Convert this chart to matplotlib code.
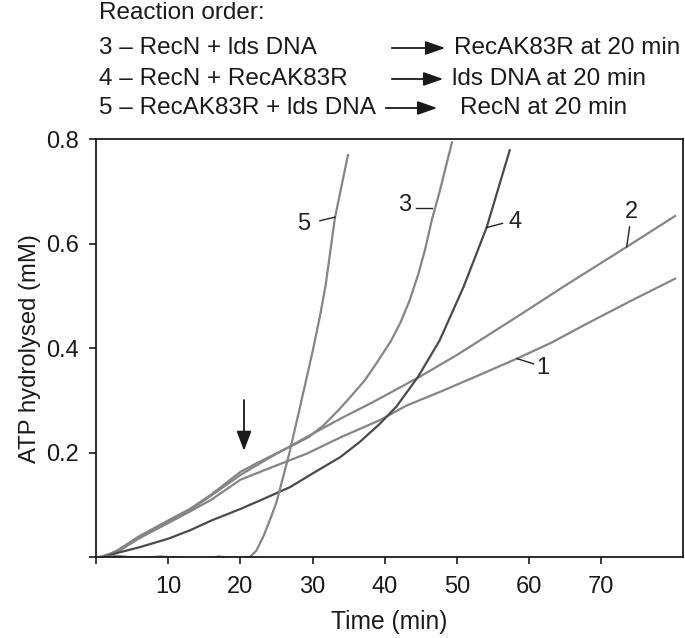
import matplotlib
matplotlib.use('Agg')
import matplotlib.pyplot as plt
from matplotlib.patches import FancyArrowPatch

plt.rcParams['font.family'] = ['Liberation Sans', 'DejaVu Sans']

# values (time in min, ATP hydrolysed in mM)
t1 = [0.5, 3, 6, 10, 13, 16, 20, 24, 29.2, 34, 39.3, 43, 47.6, 53, 58.3, 63, 68, 74, 80.2]
y1 = [0, 0.01, 0.036, 0.065, 0.087, 0.11, 0.148, 0.17, 0.198, 0.23, 0.262, 0.29, 0.316, 0.348, 0.38, 0.41, 0.447, 0.49, 0.533]

t2 = [1, 3, 6, 10, 13, 16, 20, 24, 29.2, 34, 38.4, 44.8, 50, 58.3, 65, 73.5, 80.2]
y2 = [0, 0.012, 0.038, 0.068, 0.09, 0.118, 0.157, 0.19, 0.23, 0.266, 0.297, 0.345, 0.387, 0.46, 0.52, 0.594, 0.653]

t3 = [1, 3, 6, 10, 13, 16, 20, 22.3, 24.5, 27.3, 29.5, 31.5, 33.5, 35.2, 37.2, 38.8, 40.9, 42.2, 43.4, 44.6,
      45.6, 46.5, 47.6, 48.5, 49.3]
y3 = [0, 0.013, 0.04, 0.07, 0.092, 0.12, 0.163, 0.18, 0.195, 0.214, 0.23, 0.252, 0.28, 0.306, 0.338, 0.37,
      0.415, 0.45, 0.49, 0.54, 0.59, 0.645, 0.70, 0.75, 0.794]

t4 = [1, 3, 6.1, 10, 13, 16, 20, 23, 26.9, 30, 33.8, 36.5, 39.3, 41.6, 44.6, 47.6, 50.9, 54.1, 57.3]
y4 = [0, 0.008, 0.019, 0.035, 0.051, 0.07, 0.092, 0.11, 0.134, 0.16, 0.191, 0.22, 0.255, 0.288, 0.345, 0.415, 0.517, 0.631, 0.779]

t5 = [0.5, 3, 6, 9, 12, 15, 17, 19, 21.3, 22.2, 23.2, 24.2, 25, 26.8, 28.3, 30.1, 31.0, 31.8, 32.4, 33.1, 34.0, 34.9]
y5 = [0, 0.002, -0.002, 0.001, -0.002, -0.004, 0.001, -0.002, 0, 0.012, 0.04, 0.075, 0.105, 0.2, 0.29, 0.4,
      0.46, 0.52, 0.58, 0.65, 0.71, 0.77]

curve_names = ['1', '2', '3', '4', '5']
# label text position and the small leader line (start, end) per curve
label_xy = [(61.9, 0.362), (74.2, 0.66), (42.8, 0.674), (58.0, 0.642), (28.7, 0.638)]
leader = [((58.3, 0.38), (60.6, 0.370)), ((73.5, 0.594), (73.9, 0.632)),
          ((46.6, 0.668), (44.3, 0.668)), ((54.1, 0.631), (56.3, 0.639)),
          ((33.1, 0.651), (31.0, 0.644))]

header = ['3 \u2013 RecN + lds DNA', '4 \u2013 RecN + RecAK83R', '5 \u2013 RecAK83R + lds DNA']
added = ['RecAK83R at 20 min', 'lds DNA at 20 min', 'RecN at 20 min']

light = '#858585'
dark = '#4a4a4a'
ink = '#1a1a1a'

fig = plt.figure(figsize=(6.85, 6.38), dpi=100)
ax = fig.add_axes([96/685, 1-557/638, 587/685, (557-139.3)/638])

ax.plot(t1, y1, color=light, lw=1.6)
ax.plot(t2, y2, color=light, lw=1.6)
ax.plot(t3, y3, color=light, lw=1.6)
ax.plot(t4, y4, color=dark, lw=1.6)
ax.plot(t5, y5, color=light, lw=1.6)

for name, (lx, ly), (p0, p1) in zip(curve_names, label_xy, leader):
    ax.plot([p0[0], p1[0]], [p0[1], p1[1]], color='#222222', lw=1.0)
    ax.text(lx, ly, name, fontsize=17, ha='center', va='center', color='#222222')

# arrow marking the 20 min addition
ax.annotate('', xy=(20.5, 0.198), xytext=(20.5, 0.306),
            arrowprops=dict(arrowstyle='-|>,head_length=1.2,head_width=0.45',
                            color=ink, lw=1.3))

ax.set_xlim(0, 81.3)
ax.set_ylim(0, 0.8)
ax.set_xticks([0, 10, 20, 30, 40, 50, 60, 70])
ax.set_xticklabels(['', '10', '20', '30', '40', '50', '60', '70'])
ax.set_yticks([0, 0.2, 0.4, 0.6, 0.8])
ax.set_yticklabels(['', '0.2', '0.4', '0.6', '0.8'])
ax.tick_params(direction='out', length=5, width=1.2, labelsize=17, colors=ink)
ax.tick_params(axis='x', pad=9)
ax.tick_params(axis='y', pad=7)
for s in ax.spines.values():
    s.set_linewidth(1.3)
    s.set_color(ink)

ax.set_xlabel('Time (min)', fontsize=17.7, color=ink, labelpad=8)
ax.set_ylabel('ATP hydrolysed (mM)', fontsize=17.2, color=ink, labelpad=4)

# reaction order header
fig.text(99/685, 1-13/638, 'Reaction order:', fontsize=17.5, va='center', color=ink)
rows_y = [48, 79, 108]
arrow_x = [(389, 448), (389, 446), (383, 440)]
text_x = [454, 452, 460]
for lab, add, ry, (a0, a1), tx in zip(header, added, rows_y, arrow_x, text_x):
    yy = 1 - ry/638
    fig.text(99/685, yy, lab, fontsize=17.5, va='center', color=ink)
    fig.text(tx/685, yy, add, fontsize=17.5, va='center', color=ink)
    fig.patches.append(FancyArrowPatch(
        (a0/685, yy), (a1/685, yy), transform=fig.transFigure,
        arrowstyle='-|>,head_length=1.0,head_width=0.35', color=ink, lw=1.3,
        mutation_scale=12))

fig.savefig('out.png', dpi=100)
